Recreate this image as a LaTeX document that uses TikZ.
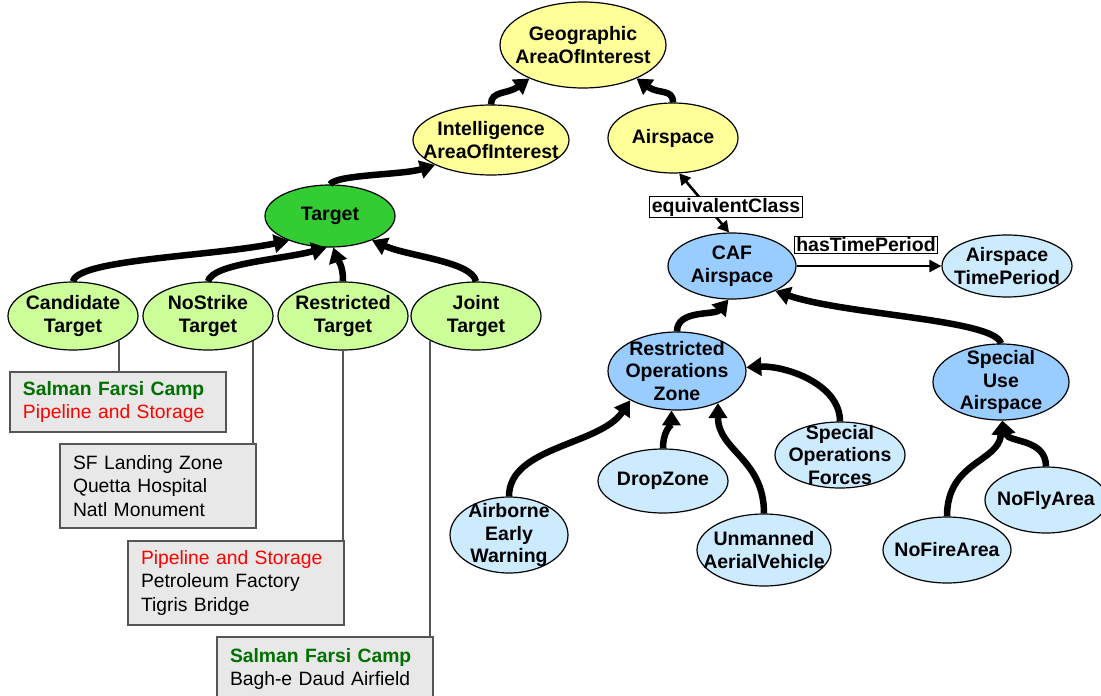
\documentclass[tikz,border=0pt]{standalone}
\usepackage{fontspec}
\setmainfont{Liberation Sans}
\usetikzlibrary{shapes.geometric,arrows.meta}

\definecolor{yel}{HTML}{FFFF99}
\definecolor{tgtgreen}{HTML}{33CC33}
\definecolor{lgreen}{HTML}{CCFF99}
\definecolor{blu}{HTML}{99CCFF}
\definecolor{lblu}{HTML}{CCEBFF}
\definecolor{boxfill}{HTML}{E8E8E8}
\definecolor{boxline}{HTML}{555555}
\definecolor{campgreen}{HTML}{007000}
\definecolor{pipered}{HTML}{FF0000}

\begin{document}
\begin{tikzpicture}[x=1pt,y=-1pt,
  cls/.style={ellipse, draw=black, line width=1.2pt, inner sep=0pt},
  lbl/.style={font=\bfseries\fontsize{19.5}{22.8}\selectfont, align=center, inner sep=0pt},
  isa/.style={line width=6.5pt, -{Triangle[length=15pt,width=18pt]}},
  rel/.style={line width=2.6pt},
  relbox/.style={draw=black, fill=white, line width=1pt,
    font=\bfseries\fontsize{19.5}{22}\selectfont, inner xsep=2pt, inner ysep=1.5pt},
  inst/.style={draw=boxline, fill=boxfill, line width=2pt, anchor=north west,
    inner xsep=13pt, inner ysep=0pt, align=left, font=\fontsize{19.3}{23.5}\selectfont},
  link/.style={draw=boxline, line width=1.6pt}]

\useasboundingbox (0,0) rectangle (1101,696);

% ---------- class ellipses ----------
\node[cls, fill=yel, minimum width=166pt, minimum height=86pt,
  label={[lbl]center:{Geographic\\AreaOfInterest}}] (geo) at (583,45) {};
\node[cls, fill=yel, minimum width=156pt, minimum height=70pt,
  label={[lbl]center:{Intelligence\\AreaOfInterest}}] (intel) at (491,140) {};
\node[cls, fill=yel, minimum width=130pt, minimum height=70pt,
  label={[lbl]center:{Airspace}}] (air) at (673,138) {};

\node[cls, fill=tgtgreen, minimum width=130pt, minimum height=62pt,
  label={[lbl]center:{Target}}] (tgt) at (330,216) {};
\node[cls, fill=lgreen, minimum width=130pt, minimum height=68pt,
  label={[lbl]center:{Candidate\\Target}}] (cand) at (73,316) {};
\node[cls, fill=lgreen, minimum width=130pt, minimum height=68pt,
  label={[lbl]center:{NoStrike\\Target}}] (ns) at (208,316) {};
\node[cls, fill=lgreen, minimum width=130pt, minimum height=68pt,
  label={[lbl]center:{Restricted\\Target}}] (rt) at (343,316) {};
\node[cls, fill=lgreen, minimum width=130pt, minimum height=68pt,
  label={[lbl]center:{Joint\\Target}}] (jt) at (476,316) {};

\node[cls, fill=blu, minimum width=128pt, minimum height=66pt,
  label={[lbl]center:{CAF\\Airspace}}] (caf) at (732,266) {};
\node[cls, fill=lblu, minimum width=130pt, minimum height=62pt,
  label={[lbl]center:{Airspace\\TimePeriod}}] (atp) at (1007,266) {};
\node[cls, fill=blu, minimum width=138pt, minimum height=78pt,
  label={[lbl]center:{Restricted\\Operations\\Zone}}] (roz) at (677,371) {};
\node[cls, fill=blu, minimum width=136pt, minimum height=76pt,
  label={[lbl]center:{Special\\Use\\Airspace}}] (sua) at (1001,382) {};
\node[cls, fill=lblu, minimum width=130pt, minimum height=66pt,
  label={[lbl]center:{Special\\Operations\\Forces}}] (sof) at (840,455) {};
\node[cls, fill=lblu, minimum width=130pt, minimum height=64pt,
  label={[lbl]center:{DropZone}}] (dz) at (663,481) {};
\node[cls, fill=lblu, minimum width=118pt, minimum height=76pt,
  label={[lbl]center:{Airborne\\Early\\Warning}}] (aew) at (509,535) {};
\node[cls, fill=lblu, minimum width=134pt, minimum height=72pt,
  label={[lbl]center:{Unmanned\\AerialVehicle}}] (uav) at (764,550) {};
\node[cls, fill=lblu, minimum width=128pt, minimum height=66pt,
  label={[lbl]center:{NoFireArea}}] (nofire) at (947,550) {};
\node[cls, fill=lblu, minimum width=122pt, minimum height=66pt,
  label={[lbl]center:{NoFlyArea}}] (nofly) at (1046,500) {};

% ---------- instance boxes ----------
\node[inst, minimum width=216pt, minimum height=60pt, text width=190pt] (box1) at (9,371)
  {\textcolor{campgreen}{\bfseries Salman Farsi Camp}\\\textcolor{pipered}{Pipeline and Storage}};
\node[inst, minimum width=196pt, minimum height=84pt, text width=170pt] (box2) at (59,443)
  {SF Landing Zone\\Quetta Hospital\\Natl Monument};
\node[inst, minimum width=216pt, minimum height=84pt, text width=190pt] (box3) at (127,540)
  {\textcolor{pipered}{Pipeline and Storage}\\Petroleum Factory\\Tigris Bridge};
\node[inst, minimum width=216pt, minimum height=64pt, text width=190pt] (box4) at (216,636)
  {\textcolor{campgreen}{\bfseries Salman Farsi Camp}\\Bagh-e Daud Airfield};

% ---------- links from classes to their instances ----------
\draw[link] (cand.-28) -- (cand.-28 |- box1.north);
\draw[link] (ns.-29) -- (ns.-29 |- box2.north);
\draw[link] (rt.south) -- (rt.south |- box3.north);
\draw[link] (jt.208) -- (jt.208 |- box4.north);

% ---------- subclass arrows ----------
\draw[isa] (intel.north) .. controls +(0,-14) and +(-22,16) .. (geo.212);
\draw[isa] (air.north) .. controls +(0,-14) and +(22,16) .. (geo.328);
\draw[isa] (tgt.north) .. controls +(6,-10) and +(-32,10) .. (intel.204);
\draw[isa] (cand.north) .. controls +(4,-22) and +(-80,16) .. (tgt.211);
\draw[isa] (ns.north) .. controls +(4,-18) and +(-45,12) .. (tgt.264);
\draw[isa] (rt.north) .. controls +(0,-18) and +(4,12) .. (tgt.276);
\draw[isa] (jt.north) .. controls +(-4,-20) and +(36,16) .. (tgt.330);

\draw[isa] (roz.north) .. controls +(0,-22) and +(-14,16) .. (caf.264);
\draw[isa] (sua.north) .. controls +(-6,-24) and +(70,24) .. (caf.330);
\draw[isa] (aew.north) .. controls +(0,-50) and +(-30,45) .. (roz.212);
\draw[isa] (dz.north) .. controls +(0,-18) and +(0,14) .. (roz.262);
\draw[isa] (uav.north) .. controls +(0,-55) and +(0,48) .. (roz.322);
\draw[isa] (sof.north) .. controls +(0,-38) and +(38,-2) .. (roz.3);
\draw[isa] (nofire.north) .. controls +(0,-55) and +(-4,42) .. (sua.272);
\draw[isa] (nofly.north) .. controls +(0,-28) and +(6,22) .. (sua.272);

% ---------- named relations ----------
\draw[rel, {Triangle[length=11pt,width=12pt]}-{Triangle[length=11pt,width=12pt]}]
  (air.280) -- (caf.95);
\node[relbox] (eqc) at (726,207) {equivalentClass};
\draw[rel, -{Triangle[length=12pt,width=12pt]}] (caf.east) -- (atp.west);
\node[relbox] (htp) at (866,245) {hasTimePeriod};

\end{tikzpicture}
\end{document}
